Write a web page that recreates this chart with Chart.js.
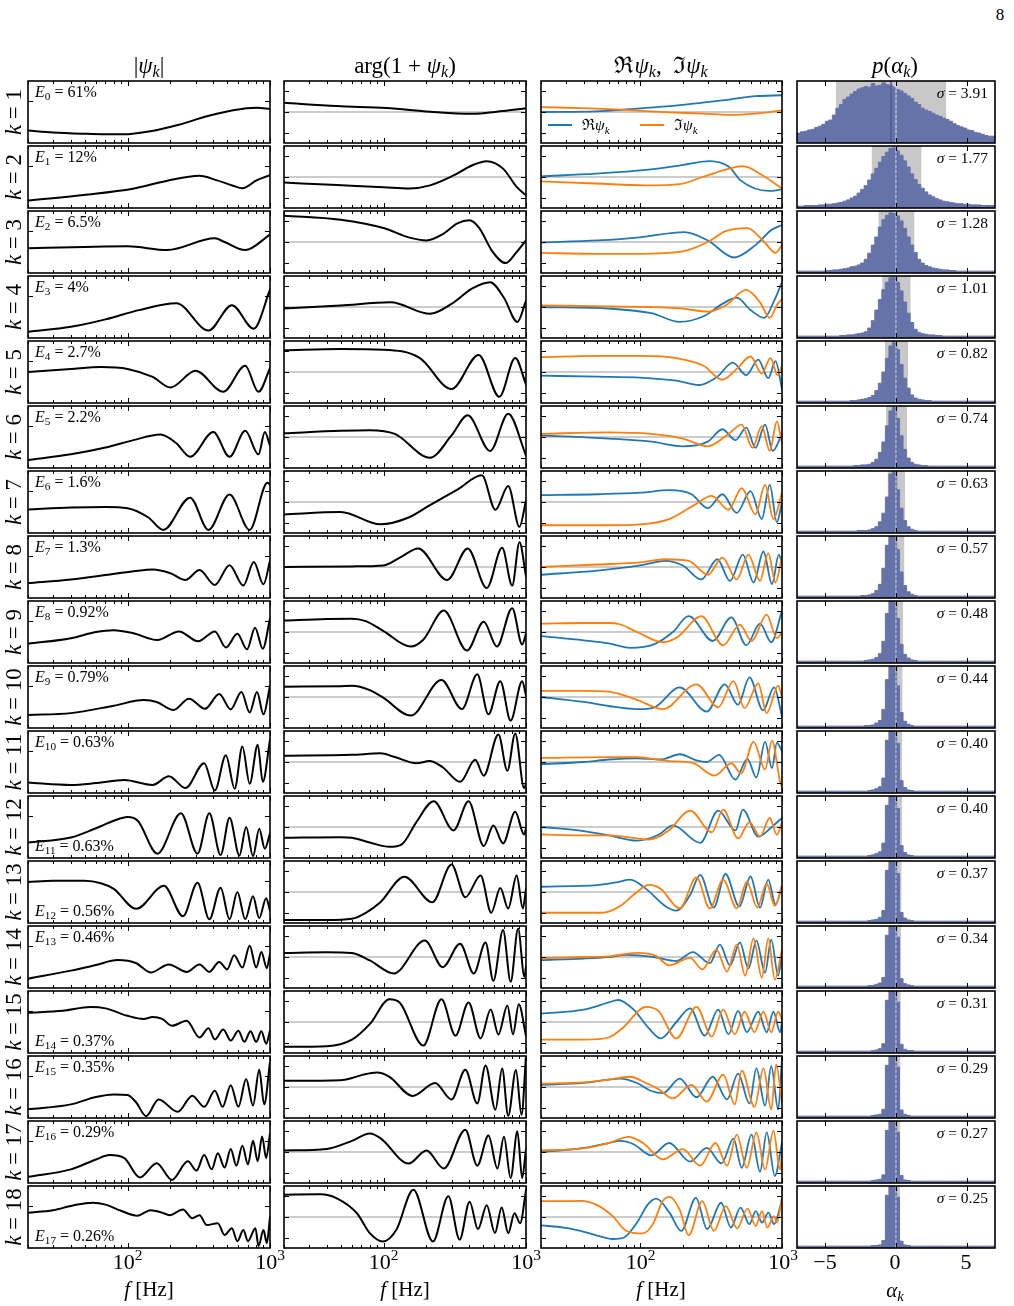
<!DOCTYPE html>
<html>
<head>
<meta charset="utf-8">
<script src="https://cdn.jsdelivr.net/npm/chart.js@4.4.1/dist/chart.umd.min.js"></script>
<style>
  html, body { margin: 0; padding: 0; background: #fff; }
  body { width: 1014px; height: 1306px; position: relative; overflow: hidden;
         font-family: 'Liberation Serif', 'DejaVu Serif', serif; color: #000; }
  canvas { position: absolute; }
  .t { position: absolute; white-space: nowrap; line-height: 1; }
  .t sub { font-size: 70%; vertical-align: -0.3em; line-height: 0; }
  .t sup { font-size: 70%; vertical-align: 0.6em; line-height: 0; }
  .key { position: absolute; height: 2px; }
</style>
</head>
<body>
<script>
// ---------- data ----------

// |psi_k| per mode, [f (Hz), value]
const absPsiRows = [
  [[20,0.20],[30,0.17],[48,0.15],[70,0.14],[93,0.14],[145,0.19],[225,0.29],[360,0.43],[550,0.53],[810,0.57],[1000,0.55]],
  [[20,0.12],[49,0.21],[109,0.31],[190,0.44],[320,0.52],[420,0.45],[550,0.36],[640,0.32],[810,0.45],[1000,0.53]],
  [[20,0.40],[50,0.42],[100,0.43],[190,0.37],[410,0.56],[480,0.50],[670,0.37],[1000,0.62]],
  [[20,0.10],[40,0.18],[70,0.30],[120,0.45],[220,0.56],[370,0.12],[540,0.53],[770,0.15],[1000,0.78]],
  [[20,0.50],[40,0.55],[65,0.58],[100,0.55],[150,0.42],[200,0.25],[300,0.52],[470,0.18],[670,0.60],[830,0.18],[1000,0.56]],
  [[20,0.13],[40,0.22],[70,0.33],[110,0.45],[170,0.54],[220,0.40],[275,0.18],[400,0.58],[520,0.18],[670,0.60],[830,0.22],[920,0.58],[1000,0.36]],
  [[20,0.38],[40,0.41],[70,0.42],[100,0.40],[140,0.25],[178,0.05],[275,0.57],[370,0.05],[520,0.62],[720,0.05],[960,0.81],[1000,0.78]],
  [[20,0.24],[40,0.30],[70,0.37],[110,0.43],[150,0.46],[200,0.40],[255,0.29],[320,0.45],[410,0.21],[520,0.53],[650,0.20],[770,0.58],[900,0.22],[1000,0.60]],
  [[20,0.31],[40,0.40],[60,0.50],[80,0.53],[110,0.48],[162,0.37],[230,0.51],[313,0.35],[410,0.51],[490,0.25],[590,0.47],[690,0.22],[785,0.57],[890,0.23],[1000,0.72]],
  [[20,0.21],[40,0.24],[80,0.36],[130,0.45],[160,0.42],[210,0.29],[270,0.47],[350,0.31],[440,0.55],[530,0.30],[630,0.58],[720,0.25],[810,0.58],[900,0.22],[1000,0.68]],
  [[20,0.17],[40,0.13],[60,0.16],[95,0.21],[150,0.13],[195,0.27],[255,0.08],[345,0.48],[410,0.04],[490,0.61],[565,0.07],[640,0.75],[720,0.15],[820,0.78],[890,0.18],[1000,0.86]],
  [[20,0.25],[40,0.33],[60,0.48],[80,0.60],[100,0.66],[118,0.60],[162,0.07],[237,0.72],[310,0.07],[375,0.72],[450,0.05],[520,0.65],[610,0.04],[680,0.50],[760,0.03],[840,0.47],[920,0.15],[1000,0.40]],
  [[20,0.66],[30,0.68],[50,0.68],[65,0.64],[80,0.55],[115,0.23],[180,0.60],[245,0.11],[310,0.65],[375,0.06],[450,0.57],[520,0.06],[590,0.50],[670,0.06],[760,0.43],[840,0.08],[940,0.40],[1000,0.20]],
  [[20,0.15],[40,0.28],[60,0.37],[85,0.45],[115,0.40],[145,0.25],[195,0.38],[260,0.26],[320,0.38],[375,0.26],[440,0.42],[500,0.30],[560,0.53],[640,0.33],[720,0.68],[800,0.33],[870,0.58],[950,0.32],[1000,0.55]],
  [[20,0.65],[35,0.68],[55,0.74],[70,0.72],[100,0.60],[130,0.55],[150,0.58],[175,0.55],[205,0.44],[260,0.52],[320,0.25],[370,0.40],[410,0.22],[470,0.38],[530,0.20],[600,0.36],[660,0.18],[730,0.35],[800,0.18],[870,0.35],[940,0.15],[1000,0.36]],
  [[20,0.14],[40,0.22],[60,0.34],[80,0.38],[100,0.37],[115,0.25],[135,0.03],[165,0.30],[225,0.10],[285,0.36],[345,0.18],[410,0.44],[465,0.18],[530,0.53],[600,0.18],[680,0.63],[760,0.20],[840,0.78],[910,0.22],[1000,0.90]],
  [[20,0.10],[40,0.22],[60,0.38],[75,0.45],[95,0.40],[122,0.09],[160,0.32],[205,0.05],[265,0.35],[305,0.20],[345,0.45],[390,0.22],[430,0.48],[480,0.25],[530,0.55],[580,0.28],[640,0.60],[700,0.30],[760,0.68],[820,0.35],[880,0.75],[940,0.40],[1000,0.80]],
  [[20,0.57],[30,0.61],[42,0.69],[57,0.73],[70,0.70],[90,0.60],[117,0.52],[145,0.61],[175,0.57],[197,0.53],[245,0.62],[285,0.48],[320,0.53],[360,0.37],[430,0.40],[480,0.21],[540,0.32],[590,0.11],[650,0.29],[700,0.11],[790,0.32],[830,0.03],[900,0.29],[950,0.08],[1000,0.50]]
];

// arg(1 + psi_k)
const argPsiRows = [
  [[20,0.30],[47,0.19],[105,0.13],[212,0.01],[410,-0.06],[690,0.03],[1000,0.12]],
  [[20,-0.18],[47,-0.26],[100,-0.33],[152,-0.37],[212,-0.27],[310,0.05],[420,0.38],[530,0.51],[690,0.27],[860,-0.32],[1000,-0.59]],
  [[20,0.85],[50,0.72],[100,0.45],[150,0.15],[200,0.05],[260,0.25],[330,0.60],[400,0.70],[470,0.45],[580,-0.30],[720,-0.68],[850,-0.35],[1000,0.05]],
  [[20,-0.05],[50,0.05],[112,0.15],[212,-0.22],[300,0.10],[420,0.60],[560,0.80],[700,0.30],[870,-0.48],[1000,0.20]],
  [[20,0.70],[50,0.74],[100,0.72],[180,0.45],[300,-0.55],[465,0.55],[650,-0.80],[840,0.45],[1000,-0.40]],
  [[20,0.12],[50,0.20],[80,0.22],[120,0.10],[212,-0.67],[300,0.05],[390,0.70],[560,-0.45],[750,0.75],[1000,-0.60]],
  [[20,-0.40],[50,-0.32],[95,-0.72],[150,-0.50],[212,-0.10],[330,0.40],[490,0.86],[610,-0.25],[750,0.52],[900,-0.80],[1000,0.05]],
  [[20,0.00],[60,0.02],[100,0.05],[130,0.30],[175,0.60],[280,-0.42],[390,0.60],[530,-0.68],[680,0.62],[800,-0.60],[900,0.80],[1000,-0.30]],
  [[20,0.37],[40,0.42],[60,0.43],[75,0.35],[100,0.03],[155,-0.47],[190,-0.25],[265,0.69],[385,-0.60],[505,0.33],[625,-0.47],[800,0.77],[940,-0.40],[1000,-0.05]],
  [[20,0.33],[50,0.35],[60,0.36],[80,0.22],[100,-0.03],[155,-0.60],[255,0.55],[355,-0.39],[455,0.73],[545,-0.56],[660,0.51],[780,-0.76],[940,0.51],[1000,0.05]],
  [[20,0.20],[60,0.23],[95,0.28],[120,0.16],[170,-0.04],[210,0.03],[260,-0.17],[345,-0.64],[440,0.07],[505,-0.44],[640,0.89],[740,-0.28],[840,0.92],[970,-0.84],[1000,-0.70]],
  [[20,-0.35],[50,-0.33],[60,-0.35],[80,-0.50],[110,-0.64],[135,-0.55],[170,0.16],[225,0.83],[310,-0.11],[395,0.83],[505,-0.61],[590,0.05],[690,-0.53],[840,0.49],[970,-0.24],[1000,-0.05]],
  [[20,-0.90],[40,-0.90],[60,-0.86],[75,-0.67],[95,-0.33],[140,0.49],[220,-0.33],[300,0.89],[375,-0.17],[480,0.53],[570,-0.67],[660,0.13],[750,-0.53],[860,0.53],[950,-0.53],[1000,0.10]],
  [[20,0.13],[40,0.15],[60,0.13],[80,-0.11],[118,-0.53],[195,0.53],[260,-0.33],[345,0.43],[430,-0.53],[520,0.47],[590,-0.77],[690,0.87],[780,-0.80],[880,0.91],[975,-0.64],[1000,-0.30]],
  [[20,-0.80],[40,-0.78],[60,-0.57],[80,-0.07],[110,0.73],[130,0.62],[190,-0.76],[255,0.73],[320,-0.44],[395,0.63],[480,-0.53],[565,0.40],[640,-0.40],[740,0.53],[810,-0.40],[890,0.57],[1000,-0.45]],
  [[20,0.20],[50,0.22],[60,0.29],[72,0.40],[90,0.47],[110,0.33],[160,-0.29],[230,0.13],[300,-0.40],[375,0.56],[455,-0.53],[520,0.69],[610,-0.73],[680,0.60],[750,-0.93],[850,0.55],[930,-0.90],[1000,1.00]],
  [[20,0.05],[40,0.10],[60,0.36],[80,0.60],[95,0.45],[150,-0.37],[200,0.05],[265,-0.53],[375,0.72],[455,-0.44],[545,0.53],[630,-0.53],[700,0.49],[780,-0.84],[870,0.67],[940,-0.84],[1000,0.10]],
  [[20,0.72],[36,0.73],[47,0.60],[65,0.12],[80,-0.52],[99,-0.79],[123,-0.41],[162,0.88],[222,-0.79],[285,0.67],[342,-0.73],[402,0.49],[460,-0.39],[530,0.38],[605,-0.52],[675,0.31],[750,-0.52],[830,0.12],[910,-0.20],[1000,0.86]]
];

// Re psi_k
const rePsiRows = [
  [[20,0.00],[49,0.02],[84,0.09],[161,0.19],[275,0.30],[425,0.40],[650,0.51],[1000,0.54]],
  [[20,0.02],[49,0.11],[110,0.23],[190,0.37],[308,0.51],[425,0.32],[510,-0.11],[810,-0.45],[1000,-0.40]],
  [[20,-0.02],[50,0.05],[100,0.15],[205,0.32],[300,0.05],[460,-0.50],[650,-0.10],[850,0.40],[1000,0.55]],
  [[20,0.00],[60,-0.05],[120,-0.20],[190,-0.48],[280,-0.30],[380,0.10],[480,0.30],[600,-0.10],[750,-0.35],[880,0.20],[1000,0.80]],
  [[20,-0.12],[50,-0.15],[100,-0.18],[180,-0.28],[260,-0.42],[350,-0.15],[450,0.30],[560,-0.10],[680,0.40],[800,-0.20],[900,0.35],[1000,-0.55]],
  [[20,0.05],[60,-0.05],[120,-0.15],[200,-0.30],[300,-0.15],[380,0.25],[470,-0.10],[560,0.30],[650,-0.35],[760,0.40],[860,-0.45],[1000,0.10]],
  [[20,0.22],[50,0.25],[100,0.30],[160,0.38],[230,0.25],[300,-0.20],[380,0.25],[480,-0.35],[600,0.35],[720,-0.55],[820,0.55],[920,-0.65],[1000,0.00]],
  [[20,-0.25],[50,-0.12],[100,0.05],[150,0.20],[200,0.05],[270,-0.40],[350,0.25],[430,-0.45],[530,0.40],[630,-0.50],[740,0.50],[850,-0.55],[950,0.40],[1000,0.10]],
  [[20,-0.13],[40,-0.27],[60,-0.37],[85,-0.51],[125,-0.40],[170,0.00],[220,0.51],[325,-0.29],[440,0.47],[560,-0.43],[700,0.27],[840,-0.33],[1000,0.69]],
  [[20,0.00],[40,-0.16],[60,-0.29],[95,-0.39],[125,-0.34],[190,0.31],[295,-0.47],[395,0.41],[490,-0.25],[590,0.63],[735,-0.43],[880,0.31],[1000,-0.63]],
  [[20,-0.07],[40,0.00],[60,0.08],[95,0.12],[140,0.08],[190,0.25],[250,0.05],[295,0.00],[360,0.23],[470,-0.57],[570,0.10],[660,-0.50],[760,0.65],[850,-0.20],[920,0.62],[1000,0.35]],
  [[20,0.00],[40,-0.13],[60,-0.27],[95,-0.44],[135,-0.25],[170,0.05],[265,-0.51],[355,0.53],[470,-0.11],[530,0.56],[680,-0.31],[870,0.05],[1000,0.29]],
  [[20,0.17],[50,0.22],[70,0.32],[85,0.40],[110,0.10],[150,-0.45],[180,-0.60],[225,-0.10],[265,0.55],[330,-0.50],[400,0.58],[500,-0.47],[600,0.50],[700,-0.50],[800,0.40],[900,-0.40],[1000,0.20]],
  [[20,-0.10],[40,-0.05],[60,0.00],[80,0.07],[125,0.00],[180,-0.13],[235,0.16],[310,-0.20],[365,0.40],[430,-0.27],[505,0.47],[580,-0.37],[660,0.53],[760,-0.51],[840,0.56],[940,-0.60],[1000,0.13]],
  [[20,0.27],[40,0.40],[60,0.63],[70,0.71],[90,0.40],[115,-0.20],[140,-0.53],[180,0.00],[225,0.44],[285,-0.44],[355,0.40],[420,-0.40],[490,0.36],[565,-0.33],[680,0.33],[780,-0.33],[870,0.33],[970,-0.33],[1000,0.00]],
  [[20,0.07],[40,0.13],[60,0.24],[72,0.27],[95,0.13],[120,-0.13],[145,-0.20],[190,0.27],[250,-0.33],[325,0.33],[410,-0.40],[490,0.43],[590,-0.53],[660,0.60],[760,-0.60],[840,0.67],[940,-0.73],[1000,0.93]],
  [[20,0.00],[40,0.13],[60,0.29],[72,0.36],[90,0.25],[120,-0.11],[160,0.29],[225,-0.31],[295,0.13],[375,-0.37],[455,0.43],[520,-0.51],[610,0.56],[700,-0.64],[780,0.63],[890,-0.77],[1000,0.30]],
  [[20,-0.27],[29,-0.34],[38,-0.45],[49,-0.59],[64,-0.71],[77,-0.66],[95,-0.18],[113,0.40],[130,0.59],[161,0.14],[195,-0.45],[247,0.62],[297,-0.39],[372,0.46],[436,-0.34],[510,0.30],[589,-0.23],[653,0.19],[723,-0.18],[803,0.14],[880,-0.23],[1000,0.55]]
];

// Im psi_k
const imPsiRows = [
  [[20,0.16],[49,0.11],[84,0.06],[161,-0.01],[275,-0.05],[425,-0.09],[650,-0.05],[1000,0.05]],
  [[20,-0.14],[49,-0.21],[110,-0.27],[190,-0.23],[275,0.00],[425,0.27],[530,0.35],[730,0.05],[1000,-0.37]],
  [[20,-0.35],[50,-0.38],[100,-0.38],[200,-0.30],[300,0.00],[400,0.35],[570,0.45],[750,0.00],[900,-0.35],[1000,-0.10]],
  [[20,0.05],[60,0.02],[120,0.00],[200,-0.05],[300,-0.15],[400,0.05],[560,0.55],[700,0.15],[820,-0.35],[930,0.10],[1000,0.25]],
  [[20,0.48],[50,0.52],[100,0.52],[180,0.45],[280,0.20],[380,-0.25],[480,0.10],[600,0.50],[720,-0.05],[830,0.45],[930,-0.10],[1000,0.20]],
  [[20,0.10],[60,0.15],[120,0.10],[200,-0.05],[300,-0.30],[420,0.10],[520,0.40],[620,-0.35],[720,0.35],[820,-0.45],[920,0.50],[1000,-0.20]],
  [[20,-0.75],[50,-0.75],[100,-0.72],[160,-0.55],[240,-0.10],[320,0.20],[420,-0.25],[520,0.45],[650,-0.40],[760,0.55],[870,-0.55],[1000,0.30]],
  [[20,0.00],[50,0.08],[100,0.15],[150,0.25],[220,0.20],[300,-0.25],[380,0.30],[480,-0.40],[580,0.40],[700,-0.45],[800,0.45],[900,-0.50],[1000,0.35]],
  [[20,0.27],[40,0.29],[60,0.29],[72,0.25],[95,0.00],[145,-0.33],[185,-0.15],[270,0.51],[385,-0.43],[505,0.24],[610,-0.29],[780,0.56],[920,-0.20],[1000,0.00]],
  [[20,0.20],[40,0.20],[60,0.17],[95,-0.09],[145,-0.39],[250,0.41],[355,-0.33],[455,0.51],[545,-0.36],[680,0.44],[780,-0.52],[940,0.37],[1000,0.00]],
  [[20,0.13],[60,0.16],[95,0.16],[160,0.03],[235,-0.03],[335,-0.44],[440,-0.04],[515,-0.37],[630,0.65],[760,-0.24],[850,0.69],[970,-0.64],[1000,-0.80]],
  [[20,-0.24],[40,-0.27],[60,-0.27],[95,-0.37],[115,-0.41],[160,-0.10],[225,0.53],[320,-0.17],[385,0.56],[490,-0.37],[590,0.16],[700,-0.31],[820,0.29],[920,-0.25],[1000,0.15]],
  [[20,-0.67],[50,-0.67],[60,-0.63],[75,-0.40],[95,0.00],[115,0.23],[140,0.10],[190,-0.53],[250,0.47],[310,-0.53],[385,0.40],[480,-0.53],[565,0.33],[670,-0.50],[780,0.27],[890,-0.45],[1000,0.20]],
  [[20,-0.04],[40,0.00],[60,0.02],[95,0.13],[130,0.03],[160,-0.27],[225,-0.03],[275,-0.40],[345,0.24],[410,-0.47],[480,0.40],[550,-0.60],[630,0.60],[720,-0.67],[800,0.60],[890,-0.73],[1000,0.25]],
  [[20,-0.57],[40,-0.57],[60,-0.50],[75,-0.20],[110,0.49],[135,0.35],[180,-0.53],[250,0.49],[320,-0.47],[385,0.40],[465,-0.40],[545,0.33],[640,-0.33],[740,0.33],[840,-0.33],[940,0.33],[1000,0.07]],
  [[20,0.11],[40,0.15],[60,0.24],[85,0.33],[110,0.13],[135,-0.07],[170,-0.37],[230,0.07],[295,-0.47],[385,0.40],[465,-0.56],[520,0.53],[640,-0.64],[740,0.60],[840,-0.73],[910,0.73],[1000,-0.53]],
  [[20,0.05],[40,0.12],[60,0.29],[83,0.49],[105,0.29],[145,-0.24],[200,0.09],[265,-0.44],[340,0.29],[410,-0.44],[480,0.56],[565,-0.51],[660,0.63],[760,-0.57],[870,0.69],[970,-0.57],[1000,-0.10]],
  [[20,0.51],[29,0.51],[38,0.52],[49,0.40],[64,0.03],[80,-0.45],[104,-0.53],[123,-0.23],[144,0.51],[161,0.65],[190,0.24],[220,-0.59],[274,0.51],[331,-0.45],[402,0.35],[483,-0.37],[571,0.27],[653,-0.29],[723,0.19],[787,-0.34],[880,0.03],[920,-0.18],[1000,0.65]]
];

// p(alpha_k): relative bin heights, 56 bins of width 0.25 over [-7, 7]
const histRows = [
  [0.15,0.16,0.18,0.19, 0.21,0.22,0.25,0.27, 0.30,0.35,0.37,0.45, 0.56,0.62,0.70,0.74, 0.79,0.83,0.87,0.89, 0.91,0.90,0.96,0.92, 0.93,0.97,0.94,0.93,
   0.90,0.86,0.84,0.80, 0.76,0.72,0.66,0.62, 0.56,0.53,0.51,0.48, 0.45,0.43,0.40,0.38, 0.35,0.31,0.28,0.26, 0.24,0.21,0.20,0.17, 0.16,0.14,0.12,0.11],
  [0.03,0.03,0.03,0.04, 0.04,0.04,0.04,0.05, 0.05,0.06,0.06,0.07, 0.08,0.09,0.11,0.13, 0.16,0.19,0.24,0.30, 0.36,0.45,0.55,0.64, 0.74,0.83,0.90,0.96,
   0.97,0.92,0.85,0.76, 0.66,0.55,0.46,0.38, 0.32,0.26,0.21,0.18, 0.15,0.13,0.11,0.10, 0.09,0.08,0.07,0.07, 0.06,0.06,0.05,0.05, 0.05,0.04,0.04,0.04],
  [0.03,0.03,0.03,0.03, 0.03,0.03,0.03,0.03, 0.03,0.04,0.04,0.05, 0.05,0.06,0.07,0.08, 0.10,0.11,0.13,0.16, 0.22,0.32,0.45,0.58, 0.74,0.86,0.93,0.97,
   0.96,0.92,0.84,0.72, 0.58,0.45,0.33,0.22, 0.16,0.12,0.10,0.08, 0.07,0.06,0.05,0.05, 0.04,0.04,0.03,0.03, 0.03,0.03,0.03,0.03, 0.03,0.03,0.03,0.03],
  [0.03,0.03,0.03,0.03, 0.03,0.03,0.03,0.03, 0.03,0.03,0.03,0.03, 0.03,0.04,0.04,0.05, 0.05,0.06,0.07,0.08, 0.10,0.16,0.28,0.45, 0.62,0.78,0.90,0.97,
   0.98,0.90,0.76,0.58, 0.40,0.25,0.14,0.09, 0.07,0.06,0.05,0.05, 0.04,0.04,0.03,0.03, 0.03,0.03,0.03,0.03, 0.03,0.03,0.03,0.03, 0.03,0.03,0.03,0.03],
  [0.03,0.03,0.03,0.03, 0.03,0.03,0.03,0.03, 0.03,0.03,0.03,0.03, 0.03,0.03,0.03,0.03, 0.04,0.04,0.05,0.06, 0.07,0.09,0.12,0.20, 0.32,0.50,0.72,0.92,
   0.98,0.86,0.62,0.40, 0.24,0.13,0.08,0.06, 0.05,0.04,0.04,0.03, 0.03,0.03,0.03,0.03, 0.03,0.03,0.03,0.03, 0.03,0.03,0.03,0.03, 0.03,0.03,0.03,0.03],
  [0.03,0.03,0.03,0.03, 0.03,0.03,0.03,0.03, 0.03,0.03,0.03,0.03, 0.03,0.03,0.03,0.03, 0.03,0.04,0.04,0.05, 0.05,0.06,0.09,0.14, 0.25,0.42,0.68,0.92,
   0.98,0.80,0.52,0.30, 0.16,0.09,0.06,0.05, 0.04,0.04,0.03,0.03, 0.03,0.03,0.03,0.03, 0.03,0.03,0.03,0.03, 0.03,0.03,0.03,0.03, 0.03,0.03,0.03,0.03],
  [0.03,0.03,0.03,0.03, 0.03,0.03,0.03,0.03, 0.03,0.03,0.03,0.03, 0.03,0.03,0.03,0.03, 0.03,0.03,0.04,0.04, 0.04,0.05,0.07,0.10, 0.18,0.32,0.58,0.95,
   1.00,0.70,0.40,0.20, 0.10,0.06,0.04,0.03, 0.03,0.03,0.03,0.03, 0.03,0.03,0.03,0.03, 0.03,0.03,0.03,0.03, 0.03,0.03,0.03,0.03, 0.03,0.03,0.03,0.03],
  [0.03,0.03,0.03,0.03, 0.03,0.03,0.03,0.03, 0.03,0.03,0.03,0.03, 0.03,0.03,0.03,0.03, 0.03,0.03,0.03,0.04, 0.04,0.05,0.07,0.12, 0.22,0.48,0.85,1.00,
   1.00,0.78,0.42,0.20, 0.10,0.06,0.04,0.03, 0.03,0.03,0.03,0.03, 0.03,0.03,0.03,0.03, 0.03,0.03,0.03,0.03, 0.03,0.03,0.03,0.03, 0.03,0.03,0.03,0.03],
  [0.03,0.03,0.03,0.03, 0.03,0.03,0.03,0.03, 0.03,0.03,0.03,0.03, 0.03,0.03,0.03,0.03, 0.03,0.03,0.03,0.03, 0.04,0.05,0.06,0.09, 0.15,0.35,0.80,1.00,
   1.00,0.72,0.30,0.14, 0.08,0.05,0.04,0.03, 0.03,0.03,0.03,0.03, 0.03,0.03,0.03,0.03, 0.03,0.03,0.03,0.03, 0.03,0.03,0.03,0.03, 0.03,0.03,0.03,0.03],
  [0.03,0.03,0.03,0.03, 0.03,0.03,0.03,0.03, 0.03,0.03,0.03,0.03, 0.03,0.03,0.03,0.03, 0.03,0.03,0.03,0.03, 0.04,0.04,0.05,0.08, 0.12,0.30,0.78,1.00,
   1.00,0.68,0.25,0.11, 0.06,0.04,0.03,0.03, 0.03,0.03,0.03,0.03, 0.03,0.03,0.03,0.03, 0.03,0.03,0.03,0.03, 0.03,0.03,0.03,0.03, 0.03,0.03,0.03,0.03],
  [0.03,0.03,0.03,0.03, 0.03,0.03,0.03,0.03, 0.03,0.03,0.03,0.03, 0.03,0.03,0.03,0.03, 0.03,0.03,0.03,0.03, 0.03,0.04,0.05,0.07, 0.10,0.24,0.85,1.00,
   1.00,0.80,0.20,0.09, 0.05,0.04,0.03,0.03, 0.03,0.03,0.03,0.03, 0.03,0.03,0.03,0.03, 0.03,0.03,0.03,0.03, 0.03,0.03,0.03,0.03, 0.03,0.03,0.03,0.03],
  [0.03,0.03,0.03,0.03, 0.03,0.03,0.03,0.03, 0.03,0.03,0.03,0.03, 0.03,0.03,0.03,0.03, 0.03,0.03,0.03,0.03, 0.03,0.04,0.05,0.07, 0.10,0.24,0.85,1.00,
   1.00,0.80,0.20,0.09, 0.05,0.04,0.03,0.03, 0.03,0.03,0.03,0.03, 0.03,0.03,0.03,0.03, 0.03,0.03,0.03,0.03, 0.03,0.03,0.03,0.03, 0.03,0.03,0.03,0.03],
  [0.03,0.03,0.03,0.03, 0.03,0.03,0.03,0.03, 0.03,0.03,0.03,0.03, 0.03,0.03,0.03,0.03, 0.03,0.03,0.03,0.03, 0.03,0.04,0.05,0.06, 0.09,0.20,0.85,1.00,
   1.00,0.80,0.17,0.08, 0.05,0.04,0.03,0.03, 0.03,0.03,0.03,0.03, 0.03,0.03,0.03,0.03, 0.03,0.03,0.03,0.03, 0.03,0.03,0.03,0.03, 0.03,0.03,0.03,0.03],
  [0.03,0.03,0.03,0.03, 0.03,0.03,0.03,0.03, 0.03,0.03,0.03,0.03, 0.03,0.03,0.03,0.03, 0.03,0.03,0.03,0.03, 0.03,0.04,0.04,0.06, 0.08,0.17,0.85,1.00,
   1.00,0.82,0.15,0.07, 0.05,0.04,0.03,0.03, 0.03,0.03,0.03,0.03, 0.03,0.03,0.03,0.03, 0.03,0.03,0.03,0.03, 0.03,0.03,0.03,0.03, 0.03,0.03,0.03,0.03],
  [0.03,0.03,0.03,0.03, 0.03,0.03,0.03,0.03, 0.03,0.03,0.03,0.03, 0.03,0.03,0.03,0.03, 0.03,0.03,0.03,0.03, 0.03,0.03,0.04,0.05, 0.07,0.15,0.85,1.00,
   1.00,0.82,0.14,0.06, 0.04,0.04,0.03,0.03, 0.03,0.03,0.03,0.03, 0.03,0.03,0.03,0.03, 0.03,0.03,0.03,0.03, 0.03,0.03,0.03,0.03, 0.03,0.03,0.03,0.03],
  [0.03,0.03,0.03,0.03, 0.03,0.03,0.03,0.03, 0.03,0.03,0.03,0.03, 0.03,0.03,0.03,0.03, 0.03,0.03,0.03,0.03, 0.03,0.03,0.04,0.05, 0.06,0.14,0.85,1.00,
   1.00,0.82,0.13,0.06, 0.04,0.03,0.03,0.03, 0.03,0.03,0.03,0.03, 0.03,0.03,0.03,0.03, 0.03,0.03,0.03,0.03, 0.03,0.03,0.03,0.03, 0.03,0.03,0.03,0.03],
  [0.03,0.03,0.03,0.03, 0.03,0.03,0.03,0.03, 0.03,0.03,0.03,0.03, 0.03,0.03,0.03,0.03, 0.03,0.03,0.03,0.03, 0.03,0.03,0.04,0.05, 0.06,0.13,0.85,1.00,
   1.00,0.82,0.12,0.05, 0.04,0.03,0.03,0.03, 0.03,0.03,0.03,0.03, 0.03,0.03,0.03,0.03, 0.03,0.03,0.03,0.03, 0.03,0.03,0.03,0.03, 0.03,0.03,0.03,0.03],
  [0.03,0.03,0.03,0.03, 0.03,0.03,0.03,0.03, 0.03,0.03,0.03,0.03, 0.03,0.03,0.03,0.03, 0.03,0.03,0.03,0.03, 0.03,0.03,0.04,0.04, 0.05,0.12,0.85,1.00,
   1.00,0.82,0.11,0.05, 0.04,0.03,0.03,0.03, 0.03,0.03,0.03,0.03, 0.03,0.03,0.03,0.03, 0.03,0.03,0.03,0.03, 0.03,0.03,0.03,0.03, 0.03,0.03,0.03,0.03]
];

const energyLabels = ['61%','12%','6.5%','4%','2.7%','2.2%','1.6%','1.3%','0.92%','0.79%','0.63%','0.63%','0.56%','0.46%','0.37%','0.35%','0.29%','0.26%'];
const sigmaValues = [3.91,1.77,1.28,1.01,0.82,0.74,0.63,0.57,0.48,0.44,0.40,0.40,0.37,0.34,0.31,0.29,0.27,0.25];
const alphaMeans = [-0.35,0.04,0.03,0.03,0.03,0.03,0.03,0.03,0.03,0.03,0.03,0.03,0.03,0.03,0.03,0.03,0.03,0.03];
const freqMajorTicks = [100, 1000];
const freqMinorTicks = [20,30,40,50,60,70,80,90,200,300,400,500,600,700,800,900];
const alphaTicks = [-5, 0, 5];

// ---------- layout ----------
const colLeft = [28, 284, 541, 797];
const colWidth = [242, 242, 241, 198];
const rowTop0 = 80.7, rowStep = 65, panelH = 62;
const energyAtBottom = [11, 12, 14, 17];
const blue = '#1f77b4', orange = '#ff7f0e', histColor = '#6673a8';

// inward ticks on all four sides + frame, placed with the chart's own scales
const panelFrame = {
  id: 'panelFrame',
  afterDatasetsDraw(chart, args, o) {
    const { ctx, chartArea: a, scales } = chart;
    ctx.save();
    ctx.strokeStyle = '#000';
    ctx.lineWidth = 1;
    ctx.beginPath();
    const xTick = (v, len) => {
      const px = Math.round(scales.x.getPixelForValue(v)) + 0.5;
      ctx.moveTo(px, a.bottom); ctx.lineTo(px, a.bottom - len);
      ctx.moveTo(px, a.top); ctx.lineTo(px, a.top + len);
    };
    const yTick = (v, len) => {
      const py = Math.round(scales.y.getPixelForValue(v)) + 0.5;
      ctx.moveTo(a.left, py); ctx.lineTo(a.left + len, py);
      ctx.moveTo(a.right, py); ctx.lineTo(a.right - len, py);
    };
    (o.xMajor || []).forEach(v => xTick(v, 5));
    (o.xMinor || []).forEach(v => xTick(v, 3));
    (o.yMajor || []).forEach(v => yTick(v, 5));
    ctx.stroke();
    ctx.lineWidth = 1.6;
    ctx.strokeRect(a.left, a.top, a.right - a.left, a.bottom - a.top);
    ctx.restore();
  }
};
Chart.register(panelFrame);

function panelCanvas(row, col) {
  const pad = 3;
  const c = document.createElement('canvas');
  const top = Math.round(rowTop0 + rowStep * row);
  c.width = colWidth[col] + 2 * pad;
  c.height = panelH + 2 * pad;
  c.style.left = (colLeft[col] - pad) + 'px';
  c.style.top = (top - pad) + 'px';
  c.style.width = c.width + 'px';
  c.style.height = c.height + 'px';
  document.body.appendChild(c);
  return c;
}

function options(xScale, yMin, yMax, frame) {
  return {
    responsive: false, animation: false, devicePixelRatio: 1, events: [],
    layout: { padding: 3 },
    plugins: { legend: { display: false }, tooltip: { enabled: false }, panelFrame: frame },
    scales: {
      x: Object.assign({ display: false }, xScale),
      y: { type: 'linear', display: false, min: yMin, max: yMax }
    },
    elements: { point: { radius: 0 }, line: { cubicInterpolationMode: 'monotone', borderJoinStyle: 'round', borderCapStyle: 'round' } }
  };
}

const logX = { type: 'logarithmic', min: 20, max: 1000 };
const freqFrame = (yTicks) => ({ xMajor: freqMajorTicks, xMinor: freqMinorTicks, yMajor: yTicks });
const straight = { tension: 0, cubicInterpolationMode: 'default' };

for (let r = 0; r < 18; r++) {
  // |psi|
  new Chart(panelCanvas(r, 0), {
    type: 'line',
    data: { datasets: [{ data: absPsiRows[r], borderColor: '#000', borderWidth: 2 }] },
    options: options(logX, 0, 1, freqFrame([0.676]))
  });
  // arg(1+psi)
  new Chart(panelCanvas(r, 1), {
    type: 'line',
    data: { datasets: [
      { data: argPsiRows[r], borderColor: '#000', borderWidth: 2, order: 1 },
      Object.assign({ data: [[20, 0], [1000, 0]], borderColor: '#999', borderWidth: 1, order: 2 }, straight)
    ] },
    options: options(logX, -1, 1, freqFrame([-0.69, 0, 0.69]))
  });
  // Re / Im
  new Chart(panelCanvas(r, 2), {
    type: 'line',
    data: { datasets: [
      { data: imPsiRows[r], borderColor: orange, borderWidth: 1.8, order: 1 },
      { data: rePsiRows[r], borderColor: blue, borderWidth: 1.8, order: 2 },
      Object.assign({ data: [[20, 0], [1000, 0]], borderColor: '#999', borderWidth: 1, order: 3 }, straight)
    ] },
    options: options(logX, -1, 1, freqFrame([-0.69, 0, 0.69]))
  });
  // histogram
  const h = histRows[r];
  const pts = h.map((v, i) => [-7 + 0.25 * i, v]);
  pts.push([7, h[h.length - 1]]);
  const m = alphaMeans[r], s = sigmaValues[r];
  new Chart(panelCanvas(r, 3), {
    type: 'line',
    data: { datasets: [
      Object.assign({ data: [[0, 0], [0, 1]], borderColor: 'rgba(255,255,255,0.85)', borderWidth: 1, borderDash: [3, 2], order: 1 }, straight),
      Object.assign({ data: [[m, 0], [m, 1]], borderColor: '#4a5a98', borderWidth: 1.5, order: 2 }, straight),
      { data: pts, stepped: 'after', fill: 'origin', backgroundColor: histColor, borderColor: histColor, borderWidth: 1, order: 3 },
      Object.assign({ data: [[m - s, 1], [m + s, 1]], fill: 'origin', backgroundColor: '#c8c8c8', borderColor: '#c8c8c8', borderWidth: 1, order: 4 }, straight)
    ] },
    options: options({ type: 'linear', min: -7, max: 7 }, 0, 1, { xMajor: alphaTicks })
  });
}

// ---------- text ----------
function addText(html, x, y, size, align, rotate) {
  const d = document.createElement('div');
  d.className = 't';
  d.innerHTML = html;
  d.style.left = x + 'px';
  d.style.top = y + 'px';
  d.style.fontSize = size + 'px';
  const tx = align === 'left' ? '0' : align === 'right' ? '-100%' : '-50%';
  d.style.transform = `translate(${tx},-50%)` + (rotate ? ' rotate(-90deg)' : '');
  document.body.appendChild(d);
  return d;
}
const K = '<sub><i>k</i></sub>';
addText('8', 1000, 14, 17, 'center');
addText(`|<i>ψ</i>${K}|`, 149, 65, 23, 'center');
addText(`arg(1 + <i>ψ</i>${K})`, 405, 65, 23, 'center');
addText(`ℜ<i>ψ</i>${K},&nbsp; ℑ<i>ψ</i>${K}`, 661, 65, 23, 'center');
addText(`<i>p</i>(<i>α</i>${K})`, 895, 65, 23, 'center');

for (let r = 0; r < 18; r++) {
  const top = rowTop0 + rowStep * r;
  addText(`<i>k</i> = ${r + 1}`, 13, top + 31, 23, 'center', true);
  const ey = energyAtBottom.includes(r) ? top + 50 : top + 11;
  addText(`<i>E</i><sub>${r}</sub> = ${energyLabels[r]}`, 35, ey, 16, 'left');
  addText(`<i>σ</i> = ${sigmaValues[r].toFixed(2)}`, 988, top + 12.5, 15.5, 'right');
}

// legend in the first Re/Im panel
const kb = document.createElement('div'); kb.className = 'key';
kb.style.cssText = `left:548px;top:124px;width:24px;background:${blue}`; document.body.appendChild(kb);
const ko = document.createElement('div'); ko.className = 'key';
ko.style.cssText = `left:640px;top:124px;width:24px;background:${orange}`; document.body.appendChild(ko);
addText(`ℜ<i>ψ</i>${K}`, 582, 125, 15.5, 'left');
addText(`ℑ<i>ψ</i>${K}`, 674, 125, 15.5, 'left');

// bottom axis labels
const xOff = [0, 256, 513];
xOff.forEach((o, i) => {
  addText('10<sup>2</sup>', 127.5 + o, 1262, 22, 'center');
  addText('10<sup>3</sup>', 270 + o, 1262, 22, 'center');
  addText('<i>f</i> [Hz]', [149, 405, 661][i], 1289, 21, 'center');
});
addText('−5', 825, 1262, 22, 'center');
addText('0', 895, 1262, 22, 'center');
addText('5', 966, 1262, 22, 'center');
addText(`<i>α</i>${K}`, 895, 1290, 21, 'center');
</script>
</body>
</html>
